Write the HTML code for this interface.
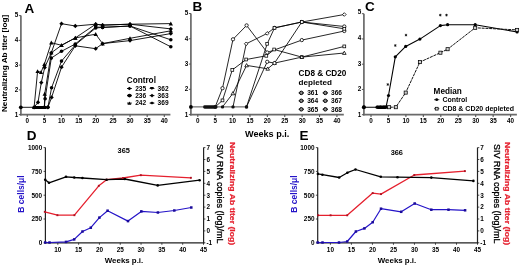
<!DOCTYPE html>
<html><head><meta charset="utf-8"><style>
html,body{margin:0;padding:0;background:#fff;width:520px;height:265px;overflow:hidden;}
svg text{font-family:"Liberation Sans", sans-serif;}
svg{will-change:transform;}
</style></head><body>
<svg width="520" height="265" viewBox="0 0 520 265" style="position:absolute;left:0;top:0">
<g font-family="Liberation Sans, sans-serif">
<line x1="20.9" y1="15.6" x2="20.9" y2="115.45" stroke="#6a6a6a" stroke-width="1.7" />
<line x1="20.05" y1="114.65" x2="170.4" y2="114.65" stroke="#6a6a6a" stroke-width="1.7" />
<line x1="18.9" y1="114.65" x2="20.9" y2="114.65" stroke="#555" stroke-width="1.0" />
<text x="18.3" y="117.01" font-size="6.3" text-anchor="end" fill="#000" font-weight="bold" >1</text>
<line x1="18.9" y1="89.89" x2="20.9" y2="89.89" stroke="#555" stroke-width="1.0" />
<text x="18.3" y="91.91" font-size="6.3" text-anchor="end" fill="#000" font-weight="bold" >2</text>
<line x1="18.9" y1="65.12" x2="20.9" y2="65.12" stroke="#555" stroke-width="1.0" />
<text x="18.3" y="66.81" font-size="6.3" text-anchor="end" fill="#000" font-weight="bold" >3</text>
<line x1="18.9" y1="40.36" x2="20.9" y2="40.36" stroke="#555" stroke-width="1.0" />
<text x="18.3" y="41.71" font-size="6.3" text-anchor="end" fill="#000" font-weight="bold" >4</text>
<line x1="18.9" y1="15.6" x2="20.9" y2="15.6" stroke="#555" stroke-width="1.0" />
<text x="18.3" y="16.61" font-size="6.3" text-anchor="end" fill="#000" font-weight="bold" >5</text>
<line x1="27.3" y1="114.65" x2="27.3" y2="117.05" stroke="#555" stroke-width="1.1" />
<text x="27.3" y="123" font-size="6.3" text-anchor="middle" fill="#000" font-weight="bold" >0</text>
<line x1="44.42" y1="114.65" x2="44.42" y2="117.05" stroke="#555" stroke-width="1.1" />
<text x="44.42" y="123" font-size="6.3" text-anchor="middle" fill="#000" font-weight="bold" >5</text>
<line x1="61.55" y1="114.65" x2="61.55" y2="117.05" stroke="#555" stroke-width="1.1" />
<text x="61.55" y="123" font-size="6.3" text-anchor="middle" fill="#000" font-weight="bold" >10</text>
<line x1="78.67" y1="114.65" x2="78.67" y2="117.05" stroke="#555" stroke-width="1.1" />
<text x="78.67" y="123" font-size="6.3" text-anchor="middle" fill="#000" font-weight="bold" >15</text>
<line x1="95.8" y1="114.65" x2="95.8" y2="117.05" stroke="#555" stroke-width="1.1" />
<text x="95.8" y="123" font-size="6.3" text-anchor="middle" fill="#000" font-weight="bold" >20</text>
<line x1="112.92" y1="114.65" x2="112.92" y2="117.05" stroke="#555" stroke-width="1.1" />
<text x="112.92" y="123" font-size="6.3" text-anchor="middle" fill="#000" font-weight="bold" >25</text>
<line x1="130.05" y1="114.65" x2="130.05" y2="117.05" stroke="#555" stroke-width="1.1" />
<text x="130.05" y="123" font-size="6.3" text-anchor="middle" fill="#000" font-weight="bold" >30</text>
<line x1="147.18" y1="114.65" x2="147.18" y2="117.05" stroke="#555" stroke-width="1.1" />
<text x="147.18" y="123" font-size="6.3" text-anchor="middle" fill="#000" font-weight="bold" >35</text>
<line x1="164.3" y1="114.65" x2="164.3" y2="117.05" stroke="#555" stroke-width="1.1" />
<text x="164.3" y="123" font-size="6.3" text-anchor="middle" fill="#000" font-weight="bold" >40</text>
<line x1="190.9" y1="13.5" x2="190.9" y2="115.4" stroke="#6a6a6a" stroke-width="1.7" />
<line x1="190.05" y1="114.6" x2="343.8" y2="114.6" stroke="#6a6a6a" stroke-width="1.7" />
<line x1="188.9" y1="114.6" x2="190.9" y2="114.6" stroke="#555" stroke-width="1.0" />
<text x="188.3" y="116.91" font-size="6.3" text-anchor="end" fill="#000" font-weight="bold" >1</text>
<line x1="188.9" y1="89.32" x2="190.9" y2="89.32" stroke="#555" stroke-width="1.0" />
<text x="188.3" y="91.45" font-size="6.3" text-anchor="end" fill="#000" font-weight="bold" >2</text>
<line x1="188.9" y1="64.05" x2="190.9" y2="64.05" stroke="#555" stroke-width="1.0" />
<text x="188.3" y="65.98" font-size="6.3" text-anchor="end" fill="#000" font-weight="bold" >3</text>
<line x1="188.9" y1="38.78" x2="190.9" y2="38.78" stroke="#555" stroke-width="1.0" />
<text x="188.3" y="40.52" font-size="6.3" text-anchor="end" fill="#000" font-weight="bold" >4</text>
<line x1="188.9" y1="13.5" x2="190.9" y2="13.5" stroke="#555" stroke-width="1.0" />
<text x="188.3" y="15.06" font-size="6.3" text-anchor="end" fill="#000" font-weight="bold" >5</text>
<line x1="197.8" y1="114.6" x2="197.8" y2="117" stroke="#555" stroke-width="1.1" />
<text x="197.8" y="123" font-size="6.3" text-anchor="middle" fill="#000" font-weight="bold" >0</text>
<line x1="215.19" y1="114.6" x2="215.19" y2="117" stroke="#555" stroke-width="1.1" />
<text x="215.19" y="123" font-size="6.3" text-anchor="middle" fill="#000" font-weight="bold" >5</text>
<line x1="232.58" y1="114.6" x2="232.58" y2="117" stroke="#555" stroke-width="1.1" />
<text x="232.58" y="123" font-size="6.3" text-anchor="middle" fill="#000" font-weight="bold" >10</text>
<line x1="249.97" y1="114.6" x2="249.97" y2="117" stroke="#555" stroke-width="1.1" />
<text x="249.97" y="123" font-size="6.3" text-anchor="middle" fill="#000" font-weight="bold" >15</text>
<line x1="267.36" y1="114.6" x2="267.36" y2="117" stroke="#555" stroke-width="1.1" />
<text x="267.36" y="123" font-size="6.3" text-anchor="middle" fill="#000" font-weight="bold" >20</text>
<line x1="284.75" y1="114.6" x2="284.75" y2="117" stroke="#555" stroke-width="1.1" />
<text x="284.75" y="123" font-size="6.3" text-anchor="middle" fill="#000" font-weight="bold" >25</text>
<line x1="302.14" y1="114.6" x2="302.14" y2="117" stroke="#555" stroke-width="1.1" />
<text x="302.14" y="123" font-size="6.3" text-anchor="middle" fill="#000" font-weight="bold" >30</text>
<line x1="319.53" y1="114.6" x2="319.53" y2="117" stroke="#555" stroke-width="1.1" />
<text x="319.53" y="123" font-size="6.3" text-anchor="middle" fill="#000" font-weight="bold" >35</text>
<line x1="336.92" y1="114.6" x2="336.92" y2="117" stroke="#555" stroke-width="1.1" />
<text x="336.92" y="123" font-size="6.3" text-anchor="middle" fill="#000" font-weight="bold" >40</text>
<line x1="363.9" y1="13.7" x2="363.9" y2="115.5" stroke="#6a6a6a" stroke-width="1.7" />
<line x1="363.05" y1="114.7" x2="516.9" y2="114.7" stroke="#6a6a6a" stroke-width="1.7" />
<line x1="361.9" y1="114.7" x2="363.9" y2="114.7" stroke="#555" stroke-width="1.0" />
<text x="361.3" y="116.91" font-size="6.3" text-anchor="end" fill="#000" font-weight="bold" >1</text>
<line x1="361.9" y1="89.45" x2="363.9" y2="89.45" stroke="#555" stroke-width="1.0" />
<text x="361.3" y="91.3" font-size="6.3" text-anchor="end" fill="#000" font-weight="bold" >2</text>
<line x1="361.9" y1="64.2" x2="363.9" y2="64.2" stroke="#555" stroke-width="1.0" />
<text x="361.3" y="65.69" font-size="6.3" text-anchor="end" fill="#000" font-weight="bold" >3</text>
<line x1="361.9" y1="38.95" x2="363.9" y2="38.95" stroke="#555" stroke-width="1.0" />
<text x="361.3" y="40.07" font-size="6.3" text-anchor="end" fill="#000" font-weight="bold" >4</text>
<line x1="361.9" y1="13.7" x2="363.9" y2="13.7" stroke="#555" stroke-width="1.0" />
<text x="361.3" y="14.46" font-size="6.3" text-anchor="end" fill="#000" font-weight="bold" >5</text>
<line x1="371" y1="114.7" x2="371" y2="117.1" stroke="#555" stroke-width="1.1" />
<text x="371" y="123" font-size="6.3" text-anchor="middle" fill="#000" font-weight="bold" >0</text>
<line x1="388.45" y1="114.7" x2="388.45" y2="117.1" stroke="#555" stroke-width="1.1" />
<text x="388.45" y="123" font-size="6.3" text-anchor="middle" fill="#000" font-weight="bold" >5</text>
<line x1="405.9" y1="114.7" x2="405.9" y2="117.1" stroke="#555" stroke-width="1.1" />
<text x="405.9" y="123" font-size="6.3" text-anchor="middle" fill="#000" font-weight="bold" >10</text>
<line x1="423.35" y1="114.7" x2="423.35" y2="117.1" stroke="#555" stroke-width="1.1" />
<text x="423.35" y="123" font-size="6.3" text-anchor="middle" fill="#000" font-weight="bold" >15</text>
<line x1="440.8" y1="114.7" x2="440.8" y2="117.1" stroke="#555" stroke-width="1.1" />
<text x="440.8" y="123" font-size="6.3" text-anchor="middle" fill="#000" font-weight="bold" >20</text>
<line x1="458.25" y1="114.7" x2="458.25" y2="117.1" stroke="#555" stroke-width="1.1" />
<text x="458.25" y="123" font-size="6.3" text-anchor="middle" fill="#000" font-weight="bold" >25</text>
<line x1="475.7" y1="114.7" x2="475.7" y2="117.1" stroke="#555" stroke-width="1.1" />
<text x="475.7" y="123" font-size="6.3" text-anchor="middle" fill="#000" font-weight="bold" >30</text>
<line x1="493.15" y1="114.7" x2="493.15" y2="117.1" stroke="#555" stroke-width="1.1" />
<text x="493.15" y="123" font-size="6.3" text-anchor="middle" fill="#000" font-weight="bold" >35</text>
<line x1="510.6" y1="114.7" x2="510.6" y2="117.1" stroke="#555" stroke-width="1.1" />
<text x="510.6" y="123" font-size="6.3" text-anchor="middle" fill="#000" font-weight="bold" >40</text>
<text x="24.6" y="12.8" font-size="13.5" text-anchor="start" fill="#000" font-weight="bold" >A</text>
<text x="192.4" y="10.8" font-size="13.5" text-anchor="start" fill="#000" font-weight="bold" >B</text>
<text x="365" y="10.6" font-size="13.5" text-anchor="start" fill="#000" font-weight="bold" >C</text>
<text x="26.8" y="140.4" font-size="13.5" text-anchor="start" fill="#000" font-weight="bold" >D</text>
<text x="299.6" y="139.6" font-size="13.5" text-anchor="start" fill="#000" font-weight="bold" >E</text>
<text transform="translate(7.4,63.4) rotate(-90) scale(1.168,1)" font-size="7" text-anchor="middle" font-weight="bold" fill="#000">Neutralizing Ab titer [log]</text>
<text x="245" y="136.6" font-size="9.1" text-anchor="start" fill="#000" font-weight="bold" >Weeks p.i.</text>
<line x1="20.8" y1="107.3" x2="47.9" y2="107.3" stroke="#000" stroke-width="0.9" />
<polyline points="34.1,107.3 38,102.3 41.3,82.6 44.7,67.5 51.3,52.8 61.5,23.7 75.3,26 95.7,24.2 102.6,25.1 130,24.2 170.8,28.9" fill="none" stroke="#000" stroke-width="0.9" stroke-linejoin="round" />
<polyline points="34.1,107.3 37.6,71.3 41,72.3 44.4,64.2 51.3,42.7 61.5,45.3 75.3,37.9 95.7,34.2 102.6,43.6 130,38.3 170.8,30.8" fill="none" stroke="#000" stroke-width="0.9" stroke-linejoin="round" />
<polyline points="44.4,107.3 45.1,98.7 51.3,58.1 61.5,51.3 75.3,44 95.7,27 102.6,27.4 130,26 170.8,46.8" fill="none" stroke="#000" stroke-width="0.9" stroke-linejoin="round" />
<polyline points="44.4,107.3 44.7,94 51.3,52.8 61.5,45.3 75.3,37.9 95.7,24.2 102.6,25.1 130,24.2 170.8,23.6" fill="none" stroke="#000" stroke-width="0.9" stroke-linejoin="round" />
<polyline points="47.9,107.3 51.6,97.4 61.5,67.2 75.3,45.8 95.7,48.7 102.6,43.6 130,40.6 170.8,33.6" fill="none" stroke="#000" stroke-width="0.9" stroke-linejoin="round" />
<polyline points="47.9,107.3 51.6,87.7 61.5,61.1 75.3,44.9 95.7,28 102.6,27.4 130,26 170.8,39.8" fill="none" stroke="#000" stroke-width="0.9" stroke-linejoin="round" />
<rect x="33" y="106" width="13.7" height="3" rx="1.2" fill="#000"/>
<path d="M34.1 105.14L36.26 107.3L34.1 109.46L31.94 107.3Z" fill="#000"/>
<path d="M38 100.14L40.16 102.3L38 104.46L35.84 102.3Z" fill="#000"/>
<path d="M41.3 80.44L43.46 82.6L41.3 84.76L39.14 82.6Z" fill="#000"/>
<path d="M44.7 65.34L46.86 67.5L44.7 69.66L42.54 67.5Z" fill="#000"/>
<path d="M51.3 50.64L53.46 52.8L51.3 54.96L49.14 52.8Z" fill="#000"/>
<path d="M61.5 21.54L63.66 23.7L61.5 25.86L59.34 23.7Z" fill="#000"/>
<path d="M75.3 23.84L77.46 26L75.3 28.16L73.14 26Z" fill="#000"/>
<path d="M95.7 22.04L97.86 24.2L95.7 26.36L93.54 24.2Z" fill="#000"/>
<path d="M102.6 22.94L104.76 25.1L102.6 27.26L100.44 25.1Z" fill="#000"/>
<path d="M130 22.04L132.16 24.2L130 26.36L127.84 24.2Z" fill="#000"/>
<path d="M170.8 26.74L172.96 28.9L170.8 31.06L168.64 28.9Z" fill="#000"/>
<path d="M34.1 105.14L36.26 109.1L31.94 109.1Z" fill="#000"/>
<path d="M37.6 69.14L39.76 73.1L35.44 73.1Z" fill="#000"/>
<path d="M41 70.14L43.16 74.1L38.84 74.1Z" fill="#000"/>
<path d="M44.4 62.04L46.56 66L42.24 66Z" fill="#000"/>
<path d="M51.3 40.54L53.46 44.5L49.14 44.5Z" fill="#000"/>
<path d="M61.5 43.14L63.66 47.1L59.34 47.1Z" fill="#000"/>
<path d="M75.3 35.74L77.46 39.7L73.14 39.7Z" fill="#000"/>
<path d="M95.7 32.04L97.86 36L93.54 36Z" fill="#000"/>
<path d="M102.6 41.44L104.76 45.4L100.44 45.4Z" fill="#000"/>
<path d="M130 36.14L132.16 40.1L127.84 40.1Z" fill="#000"/>
<path d="M170.8 28.64L172.96 32.6L168.64 32.6Z" fill="#000"/>
<circle cx="44.4" cy="107.3" r="1.8" fill="#000"/>
<circle cx="45.1" cy="98.7" r="1.8" fill="#000"/>
<circle cx="51.3" cy="58.1" r="1.8" fill="#000"/>
<circle cx="61.5" cy="51.3" r="1.8" fill="#000"/>
<circle cx="75.3" cy="44" r="1.8" fill="#000"/>
<circle cx="95.7" cy="27" r="1.8" fill="#000"/>
<circle cx="102.6" cy="27.4" r="1.8" fill="#000"/>
<circle cx="130" cy="26" r="1.8" fill="#000"/>
<circle cx="170.8" cy="46.8" r="1.8" fill="#000"/>
<path d="M44.4 105.14L46.56 109.1L42.24 109.1Z" fill="#000"/>
<path d="M44.7 91.84L46.86 95.8L42.54 95.8Z" fill="#000"/>
<path d="M51.3 50.64L53.46 54.6L49.14 54.6Z" fill="#000"/>
<path d="M61.5 43.14L63.66 47.1L59.34 47.1Z" fill="#000"/>
<path d="M75.3 35.74L77.46 39.7L73.14 39.7Z" fill="#000"/>
<path d="M95.7 22.04L97.86 26L93.54 26Z" fill="#000"/>
<path d="M102.6 22.94L104.76 26.9L100.44 26.9Z" fill="#000"/>
<path d="M130 22.04L132.16 26L127.84 26Z" fill="#000"/>
<path d="M170.8 21.44L172.96 25.4L168.64 25.4Z" fill="#000"/>
<path d="M47.9 105.14L50.06 107.3L47.9 109.46L45.74 107.3Z" fill="#000"/>
<path d="M51.6 95.24L53.76 97.4L51.6 99.56L49.44 97.4Z" fill="#000"/>
<path d="M61.5 65.04L63.66 67.2L61.5 69.36L59.34 67.2Z" fill="#000"/>
<path d="M75.3 43.64L77.46 45.8L75.3 47.96L73.14 45.8Z" fill="#000"/>
<path d="M95.7 46.54L97.86 48.7L95.7 50.86L93.54 48.7Z" fill="#000"/>
<path d="M102.6 41.44L104.76 43.6L102.6 45.76L100.44 43.6Z" fill="#000"/>
<path d="M130 38.44L132.16 40.6L130 42.76L127.84 40.6Z" fill="#000"/>
<path d="M170.8 31.44L172.96 33.6L170.8 35.76L168.64 33.6Z" fill="#000"/>
<circle cx="47.9" cy="107.3" r="1.8" fill="#000"/>
<circle cx="51.6" cy="87.7" r="1.8" fill="#000"/>
<circle cx="61.5" cy="61.1" r="1.8" fill="#000"/>
<circle cx="75.3" cy="44.9" r="1.8" fill="#000"/>
<circle cx="95.7" cy="28" r="1.8" fill="#000"/>
<circle cx="102.6" cy="27.4" r="1.8" fill="#000"/>
<circle cx="130" cy="26" r="1.8" fill="#000"/>
<circle cx="170.8" cy="39.8" r="1.8" fill="#000"/>
<circle cx="20.8" cy="107.3" r="1.9" fill="#000"/>
<text x="126.8" y="82.7" font-size="8.2" text-anchor="start" fill="#000" font-weight="bold" >Control</text>
<line x1="127" y1="88.5" x2="131.8" y2="88.5" stroke="#000" stroke-width="0.9" />
<path d="M127.2 88.5L129.4 86.8L131.6 88.5L129.4 90.2Z" fill="#000"/>
<text x="135.2" y="90.8" font-size="6.6" text-anchor="start" fill="#000" font-weight="bold" >235</text>
<line x1="149.6" y1="88.5" x2="154.4" y2="88.5" stroke="#000" stroke-width="0.9" />
<path d="M149.8 87L154 87L151.9 90Z" fill="#000"/>
<text x="157.6" y="90.8" font-size="6.6" text-anchor="start" fill="#000" font-weight="bold" >362</text>
<line x1="127" y1="95.6" x2="131.8" y2="95.6" stroke="#000" stroke-width="0.9" />
<ellipse cx="129.5" cy="95.6" rx="2.2" ry="1.8" fill="#000"/>
<text x="135.2" y="97.9" font-size="6.6" text-anchor="start" fill="#000" font-weight="bold" >236</text>
<line x1="149.6" y1="95.6" x2="154.4" y2="95.6" stroke="#000" stroke-width="0.9" />
<path d="M150.1 95.6L152 93.7L153.9 95.6L152 97.5Z" fill="#000"/>
<text x="157.6" y="97.9" font-size="6.6" text-anchor="start" fill="#000" font-weight="bold" >363</text>
<line x1="127" y1="103.1" x2="131.8" y2="103.1" stroke="#000" stroke-width="0.9" />
<path d="M127.4 104.7L131.4 104.7L129.4 101.5Z" fill="#000"/>
<text x="135.2" y="105.4" font-size="6.6" text-anchor="start" fill="#000" font-weight="bold" >242</text>
<line x1="149.6" y1="103.1" x2="154.4" y2="103.1" stroke="#000" stroke-width="0.9" />
<path d="M149.9 103.1L152 101.6L154.1 103.1L152 104.6Z" fill="#000"/>
<text x="157.6" y="105.4" font-size="6.6" text-anchor="start" fill="#000" font-weight="bold" >369</text>
<line x1="190.9" y1="106.9" x2="246.4" y2="106.9" stroke="#000" stroke-width="0.7" />
<polyline points="215.2,106.9 222.5,88.2 233,39.3 246.6,25.4 267.2,52.5 301.8,40.1 344.3,31" fill="none" stroke="#000" stroke-width="0.85" stroke-linejoin="round" />
<polyline points="215.2,106.9 222.5,100.4 232.3,69.9 246.2,59.5 266.3,55.8 274.2,49.5 301.8,57.1 344.3,46.4" fill="none" stroke="#000" stroke-width="0.85" stroke-linejoin="round" />
<polyline points="233,106.9 246.2,43.8 267.2,33.4 274.5,27.9 301.8,22 344.3,14.5" fill="none" stroke="#000" stroke-width="0.85" stroke-linejoin="round" />
<polyline points="222.5,106.9 232.9,93.4 246.6,65.4 267.7,68.8 274.5,63.1 301.8,57.1 344.3,53" fill="none" stroke="#000" stroke-width="0.85" stroke-linejoin="round" />
<polyline points="246.5,106.9 267.2,61.8 274.5,63.1 301.8,22 344.3,26.5" fill="none" stroke="#000" stroke-width="0.85" stroke-linejoin="round" />
<polyline points="246.5,106.9 267.2,43.8 274.5,27.9 301.8,22 344.3,28.8" fill="none" stroke="#000" stroke-width="0.85" stroke-linejoin="round" />
<rect x="203.2" y="105.3" width="14.2" height="3.4" rx="1.4" fill="#111"/>
<circle cx="215.2" cy="106.9" r="1.7" fill="#111"/>
<circle cx="222.5" cy="88.2" r="1.65" fill="#fff" stroke="#000" stroke-width="0.8"/>
<circle cx="233" cy="39.3" r="1.65" fill="#fff" stroke="#000" stroke-width="0.8"/>
<circle cx="246.6" cy="25.4" r="1.65" fill="#fff" stroke="#000" stroke-width="0.8"/>
<circle cx="267.2" cy="52.5" r="1.65" fill="#fff" stroke="#000" stroke-width="0.8"/>
<circle cx="301.8" cy="40.1" r="1.65" fill="#fff" stroke="#000" stroke-width="0.8"/>
<circle cx="344.3" cy="31" r="1.65" fill="#fff" stroke="#000" stroke-width="0.8"/>
<circle cx="215.2" cy="106.9" r="1.7" fill="#111"/>
<rect x="221.1" y="99" width="2.8" height="2.8" fill="#fff" stroke="#000" stroke-width="0.75"/>
<rect x="230.9" y="68.5" width="2.8" height="2.8" fill="#fff" stroke="#000" stroke-width="0.75"/>
<rect x="244.8" y="58.1" width="2.8" height="2.8" fill="#fff" stroke="#000" stroke-width="0.75"/>
<rect x="264.9" y="54.4" width="2.8" height="2.8" fill="#fff" stroke="#000" stroke-width="0.75"/>
<rect x="272.8" y="48.1" width="2.8" height="2.8" fill="#fff" stroke="#000" stroke-width="0.75"/>
<rect x="300.4" y="55.7" width="2.8" height="2.8" fill="#fff" stroke="#000" stroke-width="0.75"/>
<rect x="342.9" y="45" width="2.8" height="2.8" fill="#fff" stroke="#000" stroke-width="0.75"/>
<circle cx="233" cy="106.9" r="1.7" fill="#111"/>
<path d="M246.2 41.98L248.02 43.8L246.2 45.62L244.38 43.8Z" fill="#fff" stroke="#000" stroke-width="0.8"/>
<path d="M267.2 31.58L269.02 33.4L267.2 35.22L265.38 33.4Z" fill="#fff" stroke="#000" stroke-width="0.8"/>
<path d="M274.5 26.08L276.32 27.9L274.5 29.72L272.68 27.9Z" fill="#fff" stroke="#000" stroke-width="0.8"/>
<path d="M301.8 20.18L303.62 22L301.8 23.82L299.98 22Z" fill="#fff" stroke="#000" stroke-width="0.8"/>
<path d="M344.3 12.68L346.12 14.5L344.3 16.32L342.48 14.5Z" fill="#fff" stroke="#000" stroke-width="0.8"/>
<circle cx="222.5" cy="106.9" r="1.7" fill="#111"/>
<path d="M232.9 91.58L234.72 94.8L231.08 94.8Z" fill="#fff" stroke="#000" stroke-width="0.8"/>
<path d="M246.6 63.58L248.42 66.8L244.78 66.8Z" fill="#fff" stroke="#000" stroke-width="0.8"/>
<path d="M267.7 66.98L269.52 70.2L265.88 70.2Z" fill="#fff" stroke="#000" stroke-width="0.8"/>
<path d="M274.5 61.28L276.32 64.5L272.68 64.5Z" fill="#fff" stroke="#000" stroke-width="0.8"/>
<path d="M301.8 55.28L303.62 58.5L299.98 58.5Z" fill="#fff" stroke="#000" stroke-width="0.8"/>
<path d="M344.3 51.18L346.12 54.4L342.48 54.4Z" fill="#fff" stroke="#000" stroke-width="0.8"/>
<circle cx="246.5" cy="106.9" r="1.7" fill="#111"/>
<circle cx="267.2" cy="61.8" r="1.65" fill="#fff" stroke="#000" stroke-width="0.8"/>
<circle cx="274.5" cy="63.1" r="1.65" fill="#fff" stroke="#000" stroke-width="0.8"/>
<circle cx="301.8" cy="22" r="1.65" fill="#fff" stroke="#000" stroke-width="0.8"/>
<circle cx="344.3" cy="26.5" r="1.65" fill="#fff" stroke="#000" stroke-width="0.8"/>
<circle cx="246.5" cy="106.9" r="1.7" fill="#111"/>
<rect x="265.8" y="42.4" width="2.8" height="2.8" fill="#fff" stroke="#000" stroke-width="0.75"/>
<rect x="273.1" y="26.5" width="2.8" height="2.8" fill="#fff" stroke="#000" stroke-width="0.75"/>
<rect x="300.4" y="20.6" width="2.8" height="2.8" fill="#fff" stroke="#000" stroke-width="0.75"/>
<rect x="342.9" y="27.4" width="2.8" height="2.8" fill="#fff" stroke="#000" stroke-width="0.75"/>
<circle cx="190.9" cy="106.9" r="1.9" fill="#000"/>
<text x="298.6" y="75.6" font-size="8.2" text-anchor="start" fill="#000" font-weight="bold" >CD8 &amp; CD20</text>
<text x="298.6" y="85.1" font-size="8.1" text-anchor="start" fill="#000" font-weight="bold" >depleted</text>
<line x1="298.6" y1="92.9" x2="304" y2="92.9" stroke="#000" stroke-width="0.9" />
<circle cx="301.3" cy="92.9" r="1.75" fill="#888" stroke="#000" stroke-width="1.0"/>
<text x="307.2" y="95.2" font-size="6.6" text-anchor="start" fill="#000" font-weight="bold" >361</text>
<line x1="322.6" y1="92.9" x2="328" y2="92.9" stroke="#000" stroke-width="0.9" />
<circle cx="325.3" cy="92.9" r="1.75" fill="#888" stroke="#000" stroke-width="1.0"/>
<text x="331" y="95.2" font-size="6.6" text-anchor="start" fill="#000" font-weight="bold" >366</text>
<line x1="298.6" y1="100.8" x2="304" y2="100.8" stroke="#000" stroke-width="0.9" />
<circle cx="301.3" cy="100.8" r="1.75" fill="#888" stroke="#000" stroke-width="1.0"/>
<text x="307.2" y="103.1" font-size="6.6" text-anchor="start" fill="#000" font-weight="bold" >364</text>
<line x1="322.6" y1="100.8" x2="328" y2="100.8" stroke="#000" stroke-width="0.9" />
<circle cx="325.3" cy="100.8" r="1.75" fill="#888" stroke="#000" stroke-width="1.0"/>
<text x="331" y="103.1" font-size="6.6" text-anchor="start" fill="#000" font-weight="bold" >367</text>
<line x1="298.6" y1="109.3" x2="304" y2="109.3" stroke="#000" stroke-width="0.9" />
<circle cx="301.3" cy="109.3" r="1.75" fill="#888" stroke="#000" stroke-width="1.0"/>
<text x="307.2" y="111.6" font-size="6.6" text-anchor="start" fill="#000" font-weight="bold" >365</text>
<line x1="322.6" y1="109.3" x2="328" y2="109.3" stroke="#000" stroke-width="0.9" />
<circle cx="325.3" cy="109.3" r="1.75" fill="#888" stroke="#000" stroke-width="1.0"/>
<text x="331" y="111.6" font-size="6.6" text-anchor="start" fill="#000" font-weight="bold" >368</text>
<polyline points="363.9,107.2 377,107.2 380.5,107.2 384,107.2 386,107.2 388.5,95.5 395.3,56.8 405.7,46.4 419.9,39.1 440.4,25.6 447.6,24.7 475.2,24.7 517.1,32" fill="none" stroke="#000" stroke-width="1.1" stroke-linejoin="round" />
<polyline points="386,107.2 389.1,107.2 395.8,107.2 405.7,92.6 419.9,62.1 440.4,52.7 447.6,49.2 475.2,27.8 517.1,29.9" fill="none" stroke="#111" stroke-width="1.0" stroke-linejoin="round" stroke-dasharray="3,0.8"/>
<circle cx="363.9" cy="107.2" r="1.6" fill="#000"/>
<circle cx="377" cy="107.2" r="1.6" fill="#000"/>
<circle cx="380.5" cy="107.2" r="1.6" fill="#000"/>
<circle cx="384" cy="107.2" r="1.6" fill="#000"/>
<circle cx="386" cy="107.2" r="1.6" fill="#000"/>
<circle cx="388.5" cy="95.5" r="1.6" fill="#000"/>
<circle cx="395.3" cy="56.8" r="1.6" fill="#000"/>
<circle cx="405.7" cy="46.4" r="1.6" fill="#000"/>
<circle cx="419.9" cy="39.1" r="1.6" fill="#000"/>
<circle cx="440.4" cy="25.6" r="1.6" fill="#000"/>
<circle cx="447.6" cy="24.7" r="1.6" fill="#000"/>
<circle cx="475.2" cy="24.7" r="1.6" fill="#000"/>
<circle cx="517.1" cy="32" r="1.6" fill="#000"/>
<rect x="387.55" y="105.65" width="3.1" height="3.1" fill="#d0d0d0" stroke="#000" stroke-width="0.75"/>
<rect x="394.25" y="105.65" width="3.1" height="3.1" fill="#d0d0d0" stroke="#000" stroke-width="0.75"/>
<rect x="404.15" y="91.05" width="3.1" height="3.1" fill="#d0d0d0" stroke="#000" stroke-width="0.75"/>
<rect x="418.35" y="60.55" width="3.1" height="3.1" fill="#d0d0d0" stroke="#000" stroke-width="0.75"/>
<rect x="438.85" y="51.15" width="3.1" height="3.1" fill="#d0d0d0" stroke="#000" stroke-width="0.75"/>
<rect x="446.05" y="47.65" width="3.1" height="3.1" fill="#d0d0d0" stroke="#000" stroke-width="0.75"/>
<rect x="473.65" y="26.25" width="3.1" height="3.1" fill="#d0d0d0" stroke="#000" stroke-width="0.75"/>
<rect x="515.55" y="28.35" width="3.1" height="3.1" fill="#d0d0d0" stroke="#000" stroke-width="0.75"/>
<path d="M387.8 83.2L387.8 85.8M386.67 83.85L388.93 85.15M388.93 83.85L386.67 85.15" stroke="#000" stroke-width="0.75" fill="none"/>
<path d="M395.3 44.2L395.3 46.8M394.17 44.85L396.43 46.15M396.43 44.85L394.17 46.15" stroke="#000" stroke-width="0.75" fill="none"/>
<path d="M406 33.8L406 36.4M404.87 34.45L407.13 35.75M407.13 34.45L404.87 35.75" stroke="#000" stroke-width="0.75" fill="none"/>
<path d="M440.3 13.8L440.3 16.4M439.17 14.45L441.43 15.75M441.43 14.45L439.17 15.75" stroke="#000" stroke-width="0.75" fill="none"/>
<path d="M446.5 13.8L446.5 16.4M445.37 14.45L447.63 15.75M447.63 14.45L445.37 15.75" stroke="#000" stroke-width="0.75" fill="none"/>
<rect x="376.4" y="105.5" width="10.4" height="3.5" rx="1.4" fill="#000"/>
<circle cx="363.9" cy="107.2" r="2.0" fill="#000"/>
<text x="433.6" y="93.7" font-size="8.2" text-anchor="start" fill="#000" font-weight="bold" >Median</text>
<line x1="434.1" y1="99.7" x2="439.3" y2="99.7" stroke="#000" stroke-width="0.8" />
<circle cx="436.7" cy="99.7" r="1.4" fill="#000"/>
<text x="442.4" y="102.2" font-size="7" text-anchor="start" fill="#000" font-weight="bold" >Control</text>
<line x1="434.1" y1="108.7" x2="439.3" y2="108.7" stroke="#000" stroke-width="0.8" stroke-dasharray="1.2,0.8"/>
<rect x="435.3" y="107.3" width="2.8" height="2.8" fill="#d0d0d0" stroke="#000" stroke-width="0.75"/>
<text x="442.4" y="111.2" font-size="7" text-anchor="start" fill="#000" font-weight="bold" >CD8 &amp; CD20 depleted</text>
<line x1="45.4" y1="147.6" x2="45.4" y2="243.4" stroke="#222" stroke-width="1.2" />
<line x1="203.6" y1="147.6" x2="203.6" y2="243.4" stroke="#222" stroke-width="1.2" />
<line x1="44.8" y1="242.8" x2="204.2" y2="242.8" stroke="#222" stroke-width="1.2" />
<line x1="43.6" y1="242.8" x2="45.4" y2="242.8" stroke="#222" stroke-width="0.8" />
<text x="42.2" y="245.1" font-size="6.4" text-anchor="end" fill="#000" font-weight="bold" >0</text>
<line x1="43.6" y1="219" x2="45.4" y2="219" stroke="#222" stroke-width="0.8" />
<text x="42.2" y="221.3" font-size="6.4" text-anchor="end" fill="#000" font-weight="bold" >250</text>
<line x1="43.6" y1="195.2" x2="45.4" y2="195.2" stroke="#222" stroke-width="0.8" />
<text x="42.2" y="197.5" font-size="6.4" text-anchor="end" fill="#000" font-weight="bold" >500</text>
<line x1="43.6" y1="171.4" x2="45.4" y2="171.4" stroke="#222" stroke-width="0.8" />
<text x="42.2" y="173.7" font-size="6.4" text-anchor="end" fill="#000" font-weight="bold" >750</text>
<line x1="43.6" y1="147.6" x2="45.4" y2="147.6" stroke="#222" stroke-width="0.8" />
<text x="42.2" y="149.9" font-size="6.4" text-anchor="end" fill="#000" font-weight="bold" >1000</text>
<line x1="203.6" y1="242.8" x2="205.4" y2="242.8" stroke="#222" stroke-width="0.8" />
<text x="206.4" y="245.1" font-size="6.4" text-anchor="start" fill="#000" font-weight="bold" >-1</text>
<line x1="203.6" y1="230.9" x2="205.4" y2="230.9" stroke="#222" stroke-width="0.8" />
<text x="206.4" y="233.2" font-size="6.4" text-anchor="start" fill="#000" font-weight="bold" >0</text>
<line x1="203.6" y1="219" x2="205.4" y2="219" stroke="#222" stroke-width="0.8" />
<text x="206.4" y="221.3" font-size="6.4" text-anchor="start" fill="#000" font-weight="bold" >1</text>
<line x1="203.6" y1="207.1" x2="205.4" y2="207.1" stroke="#222" stroke-width="0.8" />
<text x="206.4" y="209.4" font-size="6.4" text-anchor="start" fill="#000" font-weight="bold" >2</text>
<line x1="203.6" y1="195.2" x2="205.4" y2="195.2" stroke="#222" stroke-width="0.8" />
<text x="206.4" y="197.5" font-size="6.4" text-anchor="start" fill="#000" font-weight="bold" >3</text>
<line x1="203.6" y1="183.3" x2="205.4" y2="183.3" stroke="#222" stroke-width="0.8" />
<text x="206.4" y="185.6" font-size="6.4" text-anchor="start" fill="#000" font-weight="bold" >4</text>
<line x1="203.6" y1="171.4" x2="205.4" y2="171.4" stroke="#222" stroke-width="0.8" />
<text x="206.4" y="173.7" font-size="6.4" text-anchor="start" fill="#000" font-weight="bold" >5</text>
<line x1="203.6" y1="159.5" x2="205.4" y2="159.5" stroke="#222" stroke-width="0.8" />
<text x="206.4" y="161.8" font-size="6.4" text-anchor="start" fill="#000" font-weight="bold" >6</text>
<line x1="203.6" y1="147.6" x2="205.4" y2="147.6" stroke="#222" stroke-width="0.8" />
<text x="206.4" y="149.9" font-size="6.4" text-anchor="start" fill="#000" font-weight="bold" >7</text>
<line x1="57.8" y1="242.8" x2="57.8" y2="244.8" stroke="#222" stroke-width="0.8" />
<text x="57.8" y="251.6" font-size="6.4" text-anchor="middle" fill="#000" font-weight="bold" >10</text>
<line x1="78.61" y1="242.8" x2="78.61" y2="244.8" stroke="#222" stroke-width="0.8" />
<text x="78.61" y="251.6" font-size="6.4" text-anchor="middle" fill="#000" font-weight="bold" >15</text>
<line x1="99.43" y1="242.8" x2="99.43" y2="244.8" stroke="#222" stroke-width="0.8" />
<text x="99.43" y="251.6" font-size="6.4" text-anchor="middle" fill="#000" font-weight="bold" >20</text>
<line x1="120.25" y1="242.8" x2="120.25" y2="244.8" stroke="#222" stroke-width="0.8" />
<text x="120.25" y="251.6" font-size="6.4" text-anchor="middle" fill="#000" font-weight="bold" >25</text>
<line x1="141.06" y1="242.8" x2="141.06" y2="244.8" stroke="#222" stroke-width="0.8" />
<text x="141.06" y="251.6" font-size="6.4" text-anchor="middle" fill="#000" font-weight="bold" >30</text>
<line x1="161.88" y1="242.8" x2="161.88" y2="244.8" stroke="#222" stroke-width="0.8" />
<text x="161.88" y="251.6" font-size="6.4" text-anchor="middle" fill="#000" font-weight="bold" >35</text>
<line x1="182.69" y1="242.8" x2="182.69" y2="244.8" stroke="#222" stroke-width="0.8" />
<text x="182.69" y="251.6" font-size="6.4" text-anchor="middle" fill="#000" font-weight="bold" >40</text>
<line x1="203.5" y1="242.8" x2="203.5" y2="244.8" stroke="#222" stroke-width="0.8" />
<text x="203.5" y="251.6" font-size="6.4" text-anchor="middle" fill="#000" font-weight="bold" >45</text>
<text x="104.8" y="262.7" font-size="7.9" text-anchor="start" fill="#000" font-weight="bold" >Weeks p.i.</text>
<text x="123.7" y="152.9" font-size="7.4" text-anchor="middle" fill="#000" font-weight="bold" >365</text>
<text transform="translate(24.2,194) rotate(-90)" font-size="8.5" text-anchor="middle" font-weight="bold" fill="#2413c8">B cells/μl</text>
<text transform="translate(217,144.1) rotate(90) scale(1.084,1)" font-size="8.3" text-anchor="start" font-weight="normal" fill="#000" stroke="#000" stroke-width="0.3">SIV RNA copies (log)/mL</text>
<text transform="translate(229.7,142) rotate(90) scale(1.239,1)" font-size="7" text-anchor="start" font-weight="bold" fill="#e5202e" stroke="#e5202e" stroke-width="0.2">Neutralizing Ab titer (log)</text>
<polyline points="44.8,211.8 57.4,215.2 74.4,215.2 98.8,185.8 106.6,179.7 123,178 140.8,175.2 190.9,177.8" fill="none" stroke="#e5202e" stroke-width="1.3" stroke-linejoin="round" />
<polyline points="45.2,179.7 49,182.8 66,176.8 74.3,177.5 82.4,178 106.6,179.7 124.8,179 157.7,185.4 199.6,180.2" fill="none" stroke="#000" stroke-width="1.3" stroke-linejoin="round" />
<polyline points="45.2,242.5 49.5,242.5 66,241.9 74.2,239.4 82.5,231.5 90.8,227.7 99.4,217.6 107.6,210.7 128,221.1 141.3,211.4 157.9,212.5 174.3,210.5 191.3,207.5" fill="none" stroke="#2413c8" stroke-width="1.2" stroke-linejoin="round" />
<rect x="43.85" y="210.85" width="1.9" height="1.9" fill="#b01020"/>
<rect x="56.45" y="214.25" width="1.9" height="1.9" fill="#b01020"/>
<rect x="73.45" y="214.25" width="1.9" height="1.9" fill="#b01020"/>
<rect x="97.85" y="184.85" width="1.9" height="1.9" fill="#b01020"/>
<rect x="105.65" y="178.75" width="1.9" height="1.9" fill="#b01020"/>
<rect x="122.05" y="177.05" width="1.9" height="1.9" fill="#b01020"/>
<rect x="139.85" y="174.25" width="1.9" height="1.9" fill="#b01020"/>
<rect x="189.95" y="176.85" width="1.9" height="1.9" fill="#b01020"/>
<circle cx="45.2" cy="179.7" r="1.3" fill="#000"/>
<circle cx="49" cy="182.8" r="1.3" fill="#000"/>
<circle cx="66" cy="176.8" r="1.3" fill="#000"/>
<circle cx="74.3" cy="177.5" r="1.3" fill="#000"/>
<circle cx="82.4" cy="178" r="1.3" fill="#000"/>
<circle cx="106.6" cy="179.7" r="1.3" fill="#000"/>
<circle cx="124.8" cy="179" r="1.3" fill="#000"/>
<circle cx="157.7" cy="185.4" r="1.3" fill="#000"/>
<circle cx="199.6" cy="180.2" r="1.3" fill="#000"/>
<rect x="43.95" y="241.25" width="2.5" height="2.5" fill="#1a0a9a"/>
<rect x="48.25" y="241.25" width="2.5" height="2.5" fill="#1a0a9a"/>
<rect x="64.75" y="240.65" width="2.5" height="2.5" fill="#1a0a9a"/>
<rect x="72.95" y="238.15" width="2.5" height="2.5" fill="#1a0a9a"/>
<rect x="81.25" y="230.25" width="2.5" height="2.5" fill="#1a0a9a"/>
<rect x="89.55" y="226.45" width="2.5" height="2.5" fill="#1a0a9a"/>
<rect x="98.15" y="216.35" width="2.5" height="2.5" fill="#1a0a9a"/>
<rect x="106.35" y="209.45" width="2.5" height="2.5" fill="#1a0a9a"/>
<rect x="126.75" y="219.85" width="2.5" height="2.5" fill="#1a0a9a"/>
<rect x="140.05" y="210.15" width="2.5" height="2.5" fill="#1a0a9a"/>
<rect x="156.65" y="211.25" width="2.5" height="2.5" fill="#1a0a9a"/>
<rect x="173.05" y="209.25" width="2.5" height="2.5" fill="#1a0a9a"/>
<rect x="190.05" y="206.25" width="2.5" height="2.5" fill="#1a0a9a"/>
<line x1="317.7" y1="147.6" x2="317.7" y2="243.4" stroke="#222" stroke-width="1.2" />
<line x1="477.5" y1="147.6" x2="477.5" y2="243.4" stroke="#222" stroke-width="1.2" />
<line x1="317.1" y1="242.8" x2="478.1" y2="242.8" stroke="#222" stroke-width="1.2" />
<line x1="315.9" y1="242.8" x2="317.7" y2="242.8" stroke="#222" stroke-width="0.8" />
<text x="314.5" y="245.1" font-size="6.4" text-anchor="end" fill="#000" font-weight="bold" >0</text>
<line x1="315.9" y1="219" x2="317.7" y2="219" stroke="#222" stroke-width="0.8" />
<text x="314.5" y="221.3" font-size="6.4" text-anchor="end" fill="#000" font-weight="bold" >250</text>
<line x1="315.9" y1="195.2" x2="317.7" y2="195.2" stroke="#222" stroke-width="0.8" />
<text x="314.5" y="197.5" font-size="6.4" text-anchor="end" fill="#000" font-weight="bold" >500</text>
<line x1="315.9" y1="171.4" x2="317.7" y2="171.4" stroke="#222" stroke-width="0.8" />
<text x="314.5" y="173.7" font-size="6.4" text-anchor="end" fill="#000" font-weight="bold" >750</text>
<line x1="315.9" y1="147.6" x2="317.7" y2="147.6" stroke="#222" stroke-width="0.8" />
<text x="314.5" y="149.9" font-size="6.4" text-anchor="end" fill="#000" font-weight="bold" >1000</text>
<line x1="477.5" y1="242.8" x2="479.3" y2="242.8" stroke="#222" stroke-width="0.8" />
<text x="480.3" y="245.1" font-size="6.4" text-anchor="start" fill="#000" font-weight="bold" >-1</text>
<line x1="477.5" y1="230.9" x2="479.3" y2="230.9" stroke="#222" stroke-width="0.8" />
<text x="480.3" y="233.2" font-size="6.4" text-anchor="start" fill="#000" font-weight="bold" >0</text>
<line x1="477.5" y1="219" x2="479.3" y2="219" stroke="#222" stroke-width="0.8" />
<text x="480.3" y="221.3" font-size="6.4" text-anchor="start" fill="#000" font-weight="bold" >1</text>
<line x1="477.5" y1="207.1" x2="479.3" y2="207.1" stroke="#222" stroke-width="0.8" />
<text x="480.3" y="209.4" font-size="6.4" text-anchor="start" fill="#000" font-weight="bold" >2</text>
<line x1="477.5" y1="195.2" x2="479.3" y2="195.2" stroke="#222" stroke-width="0.8" />
<text x="480.3" y="197.5" font-size="6.4" text-anchor="start" fill="#000" font-weight="bold" >3</text>
<line x1="477.5" y1="183.3" x2="479.3" y2="183.3" stroke="#222" stroke-width="0.8" />
<text x="480.3" y="185.6" font-size="6.4" text-anchor="start" fill="#000" font-weight="bold" >4</text>
<line x1="477.5" y1="171.4" x2="479.3" y2="171.4" stroke="#222" stroke-width="0.8" />
<text x="480.3" y="173.7" font-size="6.4" text-anchor="start" fill="#000" font-weight="bold" >5</text>
<line x1="477.5" y1="159.5" x2="479.3" y2="159.5" stroke="#222" stroke-width="0.8" />
<text x="480.3" y="161.8" font-size="6.4" text-anchor="start" fill="#000" font-weight="bold" >6</text>
<line x1="477.5" y1="147.6" x2="479.3" y2="147.6" stroke="#222" stroke-width="0.8" />
<text x="480.3" y="149.9" font-size="6.4" text-anchor="start" fill="#000" font-weight="bold" >7</text>
<line x1="330.4" y1="242.8" x2="330.4" y2="244.8" stroke="#222" stroke-width="0.8" />
<text x="330.4" y="251.6" font-size="6.4" text-anchor="middle" fill="#000" font-weight="bold" >10</text>
<line x1="351.41" y1="242.8" x2="351.41" y2="244.8" stroke="#222" stroke-width="0.8" />
<text x="351.41" y="251.6" font-size="6.4" text-anchor="middle" fill="#000" font-weight="bold" >15</text>
<line x1="372.43" y1="242.8" x2="372.43" y2="244.8" stroke="#222" stroke-width="0.8" />
<text x="372.43" y="251.6" font-size="6.4" text-anchor="middle" fill="#000" font-weight="bold" >20</text>
<line x1="393.44" y1="242.8" x2="393.44" y2="244.8" stroke="#222" stroke-width="0.8" />
<text x="393.44" y="251.6" font-size="6.4" text-anchor="middle" fill="#000" font-weight="bold" >25</text>
<line x1="414.46" y1="242.8" x2="414.46" y2="244.8" stroke="#222" stroke-width="0.8" />
<text x="414.46" y="251.6" font-size="6.4" text-anchor="middle" fill="#000" font-weight="bold" >30</text>
<line x1="435.47" y1="242.8" x2="435.47" y2="244.8" stroke="#222" stroke-width="0.8" />
<text x="435.47" y="251.6" font-size="6.4" text-anchor="middle" fill="#000" font-weight="bold" >35</text>
<line x1="456.49" y1="242.8" x2="456.49" y2="244.8" stroke="#222" stroke-width="0.8" />
<text x="456.49" y="251.6" font-size="6.4" text-anchor="middle" fill="#000" font-weight="bold" >40</text>
<line x1="477.5" y1="242.8" x2="477.5" y2="244.8" stroke="#222" stroke-width="0.8" />
<text x="477.5" y="251.6" font-size="6.4" text-anchor="middle" fill="#000" font-weight="bold" >45</text>
<text x="377.8" y="262.7" font-size="7.9" text-anchor="start" fill="#000" font-weight="bold" >Weeks p.i.</text>
<text x="396.8" y="154.6" font-size="7.4" text-anchor="middle" fill="#000" font-weight="bold" >366</text>
<text transform="translate(296.6,194) rotate(-90)" font-size="8.5" text-anchor="middle" font-weight="bold" fill="#2413c8">B cells/μl</text>
<text transform="translate(493.9,144.1) rotate(90) scale(1.084,1)" font-size="8.3" text-anchor="start" font-weight="normal" fill="#000" stroke="#000" stroke-width="0.3">SIV RNA copies (log)/mL</text>
<text transform="translate(504.5,142) rotate(90) scale(1.239,1)" font-size="7" text-anchor="start" font-weight="bold" fill="#e5202e" stroke="#e5202e" stroke-width="0.2">Neutralizing Ab titer (log)</text>
<polyline points="318.1,215.3 330.6,215.3 347.2,215.3 372.7,193.1 381,194.1 414.3,175 464.9,171.1" fill="none" stroke="#e5202e" stroke-width="1.3" stroke-linejoin="round" />
<polyline points="317.9,173.9 322.4,174.7 339.2,177.5 347.4,172.7 355.5,169.5 380.8,176.8 397.5,177.2 431.3,177.6 473.4,180.9" fill="none" stroke="#000" stroke-width="1.3" stroke-linejoin="round" />
<polyline points="317.7,242.5 322.5,242.5 339,242.5 347.2,241.5 355.9,231.5 364.4,228.4 372.7,222.2 381,208.7 401.2,211.8 414.7,203.5 431.3,209.7 448.5,209.7 465.1,210.3" fill="none" stroke="#2413c8" stroke-width="1.2" stroke-linejoin="round" />
<rect x="317.15" y="214.35" width="1.9" height="1.9" fill="#b01020"/>
<rect x="329.65" y="214.35" width="1.9" height="1.9" fill="#b01020"/>
<rect x="346.25" y="214.35" width="1.9" height="1.9" fill="#b01020"/>
<rect x="371.75" y="192.15" width="1.9" height="1.9" fill="#b01020"/>
<rect x="380.05" y="193.15" width="1.9" height="1.9" fill="#b01020"/>
<rect x="413.35" y="174.05" width="1.9" height="1.9" fill="#b01020"/>
<rect x="463.95" y="170.15" width="1.9" height="1.9" fill="#b01020"/>
<circle cx="317.9" cy="173.9" r="1.3" fill="#000"/>
<circle cx="322.4" cy="174.7" r="1.3" fill="#000"/>
<circle cx="339.2" cy="177.5" r="1.3" fill="#000"/>
<circle cx="347.4" cy="172.7" r="1.3" fill="#000"/>
<circle cx="355.5" cy="169.5" r="1.3" fill="#000"/>
<circle cx="380.8" cy="176.8" r="1.3" fill="#000"/>
<circle cx="397.5" cy="177.2" r="1.3" fill="#000"/>
<circle cx="431.3" cy="177.6" r="1.3" fill="#000"/>
<circle cx="473.4" cy="180.9" r="1.3" fill="#000"/>
<rect x="316.45" y="241.25" width="2.5" height="2.5" fill="#1a0a9a"/>
<rect x="321.25" y="241.25" width="2.5" height="2.5" fill="#1a0a9a"/>
<rect x="337.75" y="241.25" width="2.5" height="2.5" fill="#1a0a9a"/>
<rect x="345.95" y="240.25" width="2.5" height="2.5" fill="#1a0a9a"/>
<rect x="354.65" y="230.25" width="2.5" height="2.5" fill="#1a0a9a"/>
<rect x="363.15" y="227.15" width="2.5" height="2.5" fill="#1a0a9a"/>
<rect x="371.45" y="220.95" width="2.5" height="2.5" fill="#1a0a9a"/>
<rect x="379.75" y="207.45" width="2.5" height="2.5" fill="#1a0a9a"/>
<rect x="399.95" y="210.55" width="2.5" height="2.5" fill="#1a0a9a"/>
<rect x="413.45" y="202.25" width="2.5" height="2.5" fill="#1a0a9a"/>
<rect x="430.05" y="208.45" width="2.5" height="2.5" fill="#1a0a9a"/>
<rect x="447.25" y="208.45" width="2.5" height="2.5" fill="#1a0a9a"/>
<rect x="463.85" y="209.05" width="2.5" height="2.5" fill="#1a0a9a"/>
</g></svg>
</body></html>
